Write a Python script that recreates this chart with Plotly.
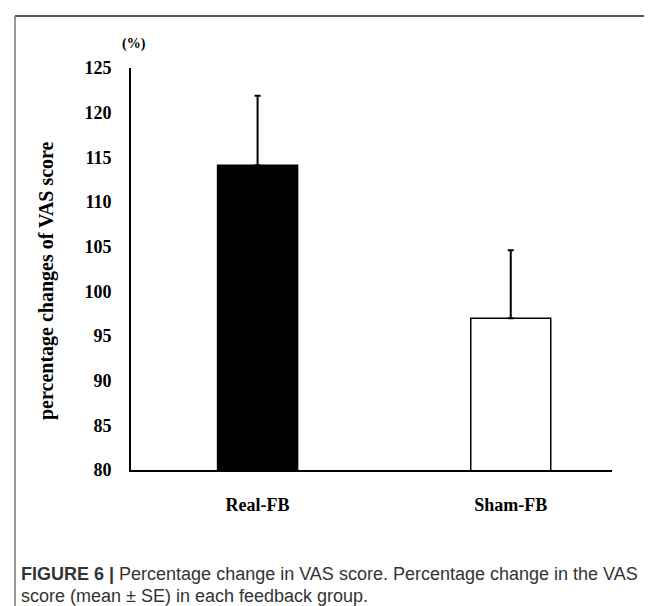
import plotly.graph_objects as go

categories = ["Real-FB", "Sham-FB"]
means = [114.1, 97.0]
se = [7.8, 7.6]
y_ticks = [80, 85, 90, 95, 100, 105, 110, 115, 120, 125]
caption_lines = [
    "<b>FIGURE 6 |</b> Percentage change in VAS score. Percentage change in the VAS",
    "score (mean ± SE) in each feedback group.",
]

W, H = 652, 606
L, R, T, B = 123, 48, 60, 144
pw, ph = W - L - R, H - T - B

def px(x):
    return (x - L) / pw

def py(y):
    return (H - B - y) / ph

serif = "Liberation Serif, Times New Roman, serif"
sans = "Liberation Sans, Arial, sans-serif"

fig = go.Figure()
fig.add_trace(go.Bar(
    x=categories, y=means,
    base=0,
    width=0.316,
    marker=dict(color=["#000000", "#ffffff"], line=dict(color="#000000", width=1.5)),
    error_y=dict(type="data", array=se, symmetric=False, arrayminus=[0, 0],
                 color="#000000", thickness=2, width=3),
    showlegend=False,
))

fig.update_layout(
    width=W, height=H,
    margin=dict(l=L, r=R, t=T, b=B, pad=0),
    paper_bgcolor="white", plot_bgcolor="white",
    xaxis=dict(range=[-0.5, 1.4], showline=True, linecolor="#000", linewidth=2,
               ticks="", showgrid=False, zeroline=False,
               tickfont=dict(family=serif, size=18, color="#000"),
               ticklabelstandoff=17),
    yaxis=dict(range=[80, 125], tickvals=y_ticks, showline=True, linecolor="#000", linewidth=2,
               ticks="", showgrid=False, zeroline=False,
               tickfont=dict(family=serif, size=18, color="#000"),
               ticklabelstandoff=14),
    font=dict(family=serif),
)
fig.update_xaxes(tickvals=[0, 1], ticktext=["<b>Real-FB</b>", "<b>Sham-FB</b>"])
fig.update_yaxes(ticktext=[f"<b>{v}</b>" for v in y_ticks])

# y-axis title
fig.add_annotation(text="<b>percentage changes of VAS score</b>", textangle=-90,
                   x=px(38), y=py(273), xref="paper", yref="paper",
                   xanchor="center", yanchor="middle", showarrow=False,
                   font=dict(family=serif, size=20, color="#000"))

fig.add_annotation(text="<b>(%)</b>", x=px(126), y=py(36), xref="paper", yref="paper",
                   xanchor="center", yanchor="middle",
                   showarrow=False, font=dict(family=serif, size=14, color="#000"))

# frame lines
fig.add_shape(type="line", xref="paper", yref="paper", x0=px(7), x1=px(652), y0=py(8), y1=py(8),
              line=dict(color="#555", width=2))
fig.add_shape(type="line", xref="paper", yref="paper", x0=px(7), x1=px(7), y0=py(8), y1=py(606),
              line=dict(color="#777", width=1.5))

for text, yc in zip(caption_lines, [566, 588]):
    fig.add_annotation(
        text=text, x=px(11), y=py(yc), xref="paper", yref="paper",
        xanchor="left", yanchor="middle", align="left", showarrow=False,
        font=dict(family=sans, size=18, color="#333"))

fig.write_html("out.html")
